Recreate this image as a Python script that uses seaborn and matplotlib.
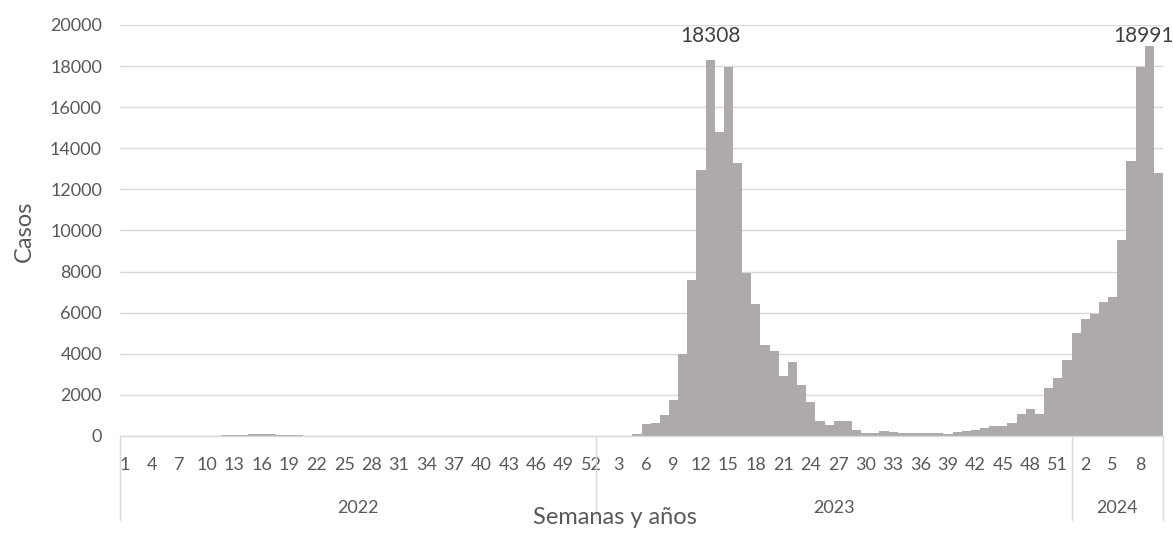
import pandas as pd
import seaborn as sns
import matplotlib.pyplot as plt
import matplotlib.transforms as mtransforms

# Datos semanales
ANIOS = ['2022', '2023', '2024']

SEMANAS_2022 = list(range(1, 53))
SEMANAS_2023 = list(range(1, 53))
SEMANAS_2024 = list(range(1, 11))

CASOS_2022 = [12, 10, 8, 9, 7, 8, 10, 9, 11, 14,
              22, 38, 45, 70, 85, 90, 88, 72, 40, 25,
              18, 14, 12, 10, 9, 8, 8, 7, 7, 6,
              6, 5, 5, 5, 5, 4, 4, 4, 4, 4,
              4, 5, 5, 5, 6, 6, 7, 8, 9, 10,
              12, 14]
CASOS_2023 = [8, 10, 12, 20, 110, 580, 620, 1005, 1767, 3987,
              7600, 12950, 18308, 14813, 17940, 13273, 7925, 6434, 4408, 4133,
              2900, 3614, 2496, 1637, 713, 519, 745, 713, 308, 140,
              130, 250, 195, 130, 130, 160, 160, 145, 110, 210,
              243, 290, 390, 490, 510, 625, 1070, 1333, 1070, 2340,
              2825, 3715]
CASOS_2024 = [4990, 5710, 5960, 6525, 6785, 9514, 13390, 17975, 18991, 12790]

# semanas con etiqueta de valor
ETIQUETAS = [('2023', 13), ('2024', 9)]

Y_TICKS = list(range(0, 20001, 2000))

GRIS_BARRA = '#AEAAAA'
GRIS_LINEA = '#D9D9D9'
GRIS_TEXTO = '#595959'

sns.set_style('white')
plt.rcParams['font.family'] = ['Lato', 'DejaVu Sans']

dfs = []
for anio, semanas, casos in zip(ANIOS, [SEMANAS_2022, SEMANAS_2023, SEMANAS_2024],
                                [CASOS_2022, CASOS_2023, CASOS_2024]):
    d = pd.DataFrame({'semana': semanas, 'casos': casos})
    d['anio'] = anio
    dfs.append(d)
df = pd.concat(dfs).reset_index(drop=True)
df['id'] = df['anio'] + '-' + df['semana'].astype(str)

fig = plt.figure(figsize=(11.73, 5.36), dpi=100)
ax = fig.add_axes([0.1023, 0.1866, 0.8892, 0.7668])

sns.barplot(data=df, x='id', y='casos', color=GRIS_BARRA, saturation=1,
            width=1.0, linewidth=0, errorbar=None, ax=ax)

ax.set_xlim(-0.5, len(df) - 0.5)
ax.set_ylim(0, 20000)
ax.set_yticks(Y_TICKS)
ax.yaxis.grid(True, color=GRIS_LINEA, linewidth=1)
ax.set_axisbelow(True)

for s in ['left', 'top', 'right']:
    ax.spines[s].set_visible(False)
ax.spines['bottom'].set_color(GRIS_LINEA)
ax.spines['bottom'].set_linewidth(1)

pos = list(range(0, len(df), 3))
ax.set_xticks(pos)
ax.set_xticklabels(df['semana'].iloc[pos].astype(str))
ax.tick_params(axis='x', length=0, pad=15, labelsize=13, labelcolor=GRIS_TEXTO)
ax.tick_params(axis='y', length=0, pad=13, labelsize=13, labelcolor=GRIS_TEXTO)
ax.set_xlabel('')
ax.set_ylabel('')

# separadores y etiquetas de anio
trans = mtransforms.blended_transform_factory(ax.transData, ax.transAxes)
conteos = df.groupby('anio', sort=False).size()
inicio = -0.5
ax.plot([inicio, inicio], [0, -0.205], transform=trans, color=GRIS_LINEA,
        lw=1, clip_on=False)
for anio, n in conteos.items():
    fin = inicio + n
    ax.plot([fin, fin], [0, -0.205], transform=trans, color=GRIS_LINEA,
            lw=1, clip_on=False)
    ax.text((inicio + fin) / 2, -0.175, anio, transform=trans, ha='center',
            va='center', fontsize=13, color=GRIS_TEXTO)
    inicio = fin

# etiquetas de los picos
for anio, semana in ETIQUETAS:
    i = df.index[(df['anio'] == anio) & (df['semana'] == semana)][0]
    valor = df.loc[i, 'casos']
    dx = -6 if i == len(df) - 2 else 0
    ax.annotate(f'{valor}', xy=(i, 0.972), xycoords=trans,
                xytext=(dx, 0), textcoords='offset pixels',
                ha='center', va='center', fontsize=15, color='#404040')

fig.text(0.524, 0.034, 'Semanas y años', ha='center', va='center',
         fontsize=17, color=GRIS_TEXTO)
fig.text(0.0205, 0.569, 'Casos', ha='center', va='center', rotation=90,
         fontsize=17, color=GRIS_TEXTO)

fig.savefig('out.png', dpi=100)
